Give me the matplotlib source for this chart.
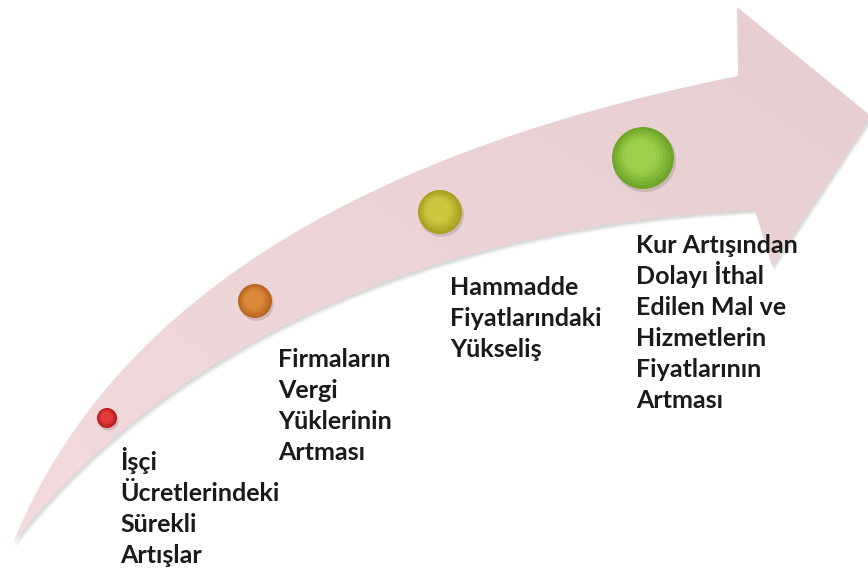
import numpy as np
import matplotlib
matplotlib.use("Agg")
import matplotlib.pyplot as plt
from matplotlib.path import Path
from matplotlib.patches import PathPatch, Circle

# steps along the arrow, left to right
labels = [
    "İşçi\nÜcretlerindeki\nSürekli\nArtışlar",
    "Firmaların\nVergi\nYüklerinin\nArtması",
    "Hammadde\nFiyatlarındaki\nYükseliş",
    "Kur Artışından\nDolayı İthal\nEdilen Mal ve\nHizmetlerin\nFiyatlarının\nArtması",
]
dot_x = [107, 255, 440, 643]
dot_y = [418, 301, 212, 158]
dot_r = [10, 17, 22, 31]
dot_edge = ["#b51c1c", "#b8661f", "#a9a21f", "#6fa629"]
dot_mid = ["#e23b3b", "#da8a3a", "#cfc63f", "#9ccf4a"]
text_x = [120, 278, 450, 636]
text_y0 = [470, 367, 295, 253]
line_gap = 31

# outline of the curved arrow (pixel coords, y down)
upper = [(13, 543), (45, 475), (85, 418), (120, 374), (167, 320), (233, 274),
         (300, 231), (400, 178), (467, 151), (560, 121), (640, 99), (738, 76)]
lower = [(13, 543), (83, 470), (100, 451), (167, 396), (233, 352), (320, 306),
         (433, 264), (533, 240), (600, 227), (680, 216), (755, 210)]
head = [(738, 76), (737, 7), (871, 116), (772, 266), (755, 210)]


def bezier_fit(pts, n=120):
    # cubic bezier with fixed ends, inner control points by least squares
    pts = np.array(pts, float)
    d = np.r_[0, np.cumsum(np.hypot(*np.diff(pts, axis=0).T))]
    t = d / d[-1]
    b0, b1, b2, b3 = (1 - t) ** 3, 3 * t * (1 - t) ** 2, 3 * t ** 2 * (1 - t), t ** 3
    rhs = pts - np.outer(b0, pts[0]) - np.outer(b3, pts[-1])
    ctrl = np.linalg.lstsq(np.c_[b1, b2], rhs, rcond=None)[0]
    s = np.linspace(0, 1, n)[:, None]
    return ((1 - s) ** 3 * pts[0] + 3 * s * (1 - s) ** 2 * ctrl[0]
            + 3 * s ** 2 * (1 - s) * ctrl[1] + s ** 3 * pts[-1])


outline = np.vstack([bezier_fit(upper), np.array(head[1:]), bezier_fit(lower)[::-1]])

fig = plt.figure(figsize=(8.68, 5.72), dpi=100)
ax = fig.add_axes([0, 0, 1, 1])
ax.set_xlim(0, 868)
ax.set_ylim(572, 0)
ax.axis("off")

# soft shadow
for k, a in [(5, 0.05), (4, 0.07), (3, 0.09), (2, 0.1)]:
    sh = outline + np.array([k * 0.6, k])
    ax.add_patch(PathPatch(Path(np.vstack([sh, sh[:1]]), closed=True),
                           facecolor="#808080", edgecolor="none", alpha=a))

arrow = PathPatch(Path(np.vstack([outline, outline[:1]]), closed=True),
                  facecolor="none", edgecolor="none")
ax.add_patch(arrow)
gx, gy = np.meshgrid(np.linspace(0, 1, 200), np.linspace(0, 1, 200))
g = np.clip((gx + (1 - gy)) / 2, 0, 1)
c0 = np.array([243, 218, 221]) / 255
c1 = np.array([230, 205, 208]) / 255
img = c0 + (c1 - c0) * g[..., None]
im = ax.imshow(img, extent=(0, 868, 572, 0), zorder=1, interpolation="bilinear")
im.set_clip_path(arrow)

# dots
for x, y, r, ce, cm in zip(dot_x, dot_y, dot_r, dot_edge, dot_mid):
    ax.add_patch(Circle((x + 1.5, y + 2.5), r * 1.02, color="#7a6a6a",
                        alpha=0.25, zorder=2, lw=0))
    ce_rgb = np.array(matplotlib.colors.to_rgb(ce))
    cm_rgb = np.array(matplotlib.colors.to_rgb(cm))
    for s in np.linspace(1, 0.3, 8):
        f = (1 - s) / 0.7
        col = ce_rgb + (cm_rgb - ce_rgb) * min(1, f * 1.6)
        ax.add_patch(Circle((x - r * 0.12 * f, y - r * 0.12 * f), r * s,
                            color=col, zorder=3, lw=0))

# labels
for lab, x, y0 in zip(labels, text_x, text_y0):
    for i, line in enumerate(lab.split("\n")):
        ax.text(x, y0 + i * line_gap, line, fontsize=18, fontweight="bold",
                color="#1a1a1a", family=["Lato", "DejaVu Sans"],
                ha="left", va="baseline", zorder=4)

fig.savefig("out.png", dpi=100)
